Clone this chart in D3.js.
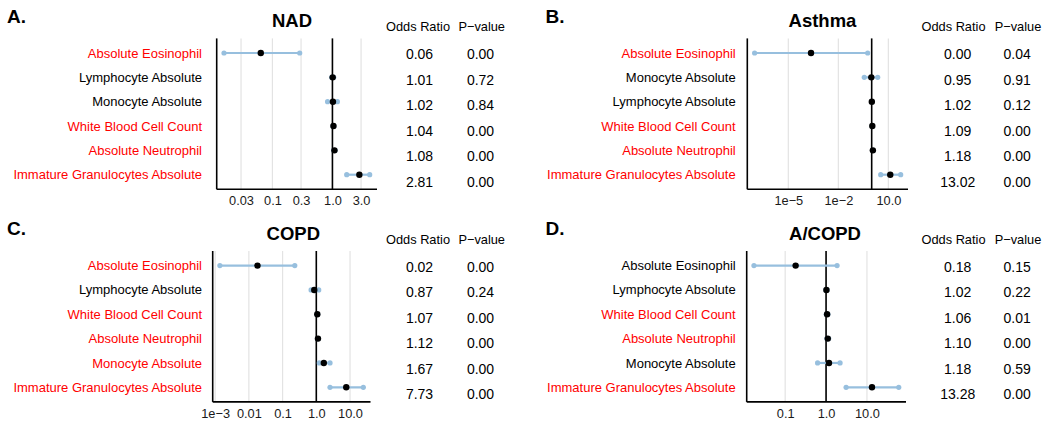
<!DOCTYPE html>
<html>
<head>
<meta charset="utf-8">
<script src="https://cdn.jsdelivr.net/npm/d3@7"></script>
<style>
  html, body { margin: 0; padding: 0; background: #fff; }
  svg { display: block; }
</style>
</head>
<body>
<svg id="chart" width="1050" height="427"></svg>
<script>
// ---------------- DATA ----------------
const labelsNAD = ["Absolute Eosinophil", "Lymphocyte Absolute", "Monocyte Absolute", "White Blood Cell Count", "Absolute Neutrophil", "Immature Granulocytes Absolute"];
const orNAD = [0.064, 1.01, 1.02, 1.04, 1.08, 2.81];
const loNAD = [0.0156, 0.97, 0.83, 1.02, 1.05, 1.73];
const hiNAD = [0.285, 1.05, 1.21, 1.06, 1.11, 4.18];
const pNAD = [0.0001, 0.72, 0.84, 0.0001, 0.0001, 0.0001];
const ticksNAD = [0.03, 0.1, 0.3, 1, 3];
const tickLabelsNAD = ["0.03", "0.1", "0.3", "1.0", "3.0"];

const labelsAsthma = ["Absolute Eosinophil", "Monocyte Absolute", "Lymphocyte Absolute", "White Blood Cell Count", "Absolute Neutrophil", "Immature Granulocytes Absolute"];
const orAsthma = [0.00023, 0.95, 1.02, 1.09, 1.18, 13.02];
const loAsthma = [9.5e-8, 0.36, 0.99, 1.06, 1.13, 3.47];
const hiAsthma = [0.575, 2.3, 1.05, 1.12, 1.23, 55];
const pAsthma = [0.04, 0.91, 0.12, 0.0001, 0.0001, 0.0001];
const ticksAsthma = [1e-5, 1e-2, 10];
const tickLabelsAsthma = ["1e\u22125", "1e\u22122", "10.0"];

const labelsCOPD = ["Absolute Eosinophil", "Lymphocyte Absolute", "White Blood Cell Count", "Absolute Neutrophil", "Monocyte Absolute", "Immature Granulocytes Absolute"];
const orCOPD = [0.018, 0.87, 1.07, 1.12, 1.67, 7.73];
const loCOPD = [0.00138, 0.70, 1.04, 1.08, 1.23, 2.55];
const hiCOPD = [0.23, 1.18, 1.10, 1.16, 2.55, 24.8];
const pCOPD = [0.0001, 0.24, 0.0001, 0.0001, 0.0001, 0.0001];
const ticksCOPD = [1e-3, 0.01, 0.1, 1, 10];
const tickLabelsCOPD = ["1e\u22123", "0.01", "0.1", "1.0", "10.0"];

const labelsACOPD = ["Absolute Eosinophil", "Lymphocyte Absolute", "White Blood Cell Count", "Absolute Neutrophil", "Monocyte Absolute", "Immature Granulocytes Absolute"];
const orACOPD = [0.18, 1.02, 1.06, 1.10, 1.18, 13.28];
const loACOPD = [0.0172, 0.99, 1.01, 1.05, 0.62, 3.09];
const hiACOPD = [1.86, 1.06, 1.11, 1.16, 2.2, 60];
const pACOPD = [0.15, 0.22, 0.01, 0.0001, 0.59, 0.0001];
const ticksACOPD = [0.1, 1, 10];
const tickLabelsACOPD = ["0.1", "1.0", "10.0"];

const titles = ["NAD", "Asthma", "COPD", "A/COPD"];
const letters = ["A.", "B.", "C.", "D."];
const headers = ["Odds Ratio", "P\u2212value"];

// ---------------- LAYOUT ----------------
const FONT = "'Liberation Sans', Arial, Helvetica, sans-serif";
const panels = [
  { title: titles[0], letter: letters[0], labels: labelsNAD, or: orNAD, lo: loNAD, hi: hiNAD, p: pNAD, ticks: ticksNAD, tickLabels: tickLabelsNAD,
    x0: 216.7, x1: 377, dy: 0, labelX: 202, titleX: 292, letterX: 7, orX: 419.5, pX: 480.5, hOrX: 418, hPX: 481.7 },
  { title: titles[1], letter: letters[1], labels: labelsAsthma, or: orAsthma, lo: loAsthma, hi: hiAsthma, p: pAsthma, ticks: ticksAsthma, tickLabels: tickLabelsAsthma,
    x0: 747.3, x1: 908, dy: 0, labelX: 735.7, titleX: 822.5, letterX: 545.5, orX: 957.7, pX: 1017.2, hOrX: 953.5, hPX: 1018 },
  { title: titles[2], letter: letters[2], labels: labelsCOPD, or: orCOPD, lo: loCOPD, hi: hiCOPD, p: pCOPD, ticks: ticksCOPD, tickLabels: tickLabelsCOPD,
    x0: 212.7, x1: 370.5, dy: 212.6, labelX: 202, titleX: 293.3, letterX: 7, orX: 419.5, pX: 480.5, hOrX: 418, hPX: 481.7 },
  { title: titles[3], letter: letters[3], labels: labelsACOPD, or: orACOPD, lo: loACOPD, hi: hiACOPD, p: pACOPD, ticks: ticksACOPD, tickLabels: tickLabelsACOPD,
    x0: 746.7, x1: 906, dy: 212.6, labelX: 735.7, titleX: 825, letterX: 545.5, orX: 957.7, pX: 1017.2, hOrX: 953.5, hPX: 1018 }
];

const plotTop = 38.4, plotBottom = 189.3;
const tableTop = 54.3, tableStep = 25.5;
const ciColor = "#97bfde";
const fmt = d3.format(".2f");

const svg = d3.select("#chart").style("font-family", FONT);

panels.forEach(P => {
  const g = svg.append("g").attr("transform", `translate(0,${P.dy})`);
  const n = P.labels.length;
  const idx = d3.range(n);

  // x: log scale with 5% expansion of data range (like ggplot)
  const lmin = Math.log10(d3.min(P.lo)), lmax = Math.log10(d3.max(P.hi));
  const span = lmax - lmin;
  const x = d3.scaleLog()
    .domain([Math.pow(10, lmin - 0.05 * span), Math.pow(10, lmax + 0.05 * span)])
    .range([P.x0, P.x1]);
  const y = d3.scalePoint().domain(idx).range([plotTop, plotBottom]).padding(0.6);

  // gridlines
  g.append("g").selectAll("line").data(P.ticks).join("line")
    .attr("x1", d => x(d)).attr("x2", d => x(d))
    .attr("y1", plotTop).attr("y2", plotBottom)
    .attr("stroke", "#e3e3e3").attr("stroke-width", 1.2);

  // bottom axis via d3.axisBottom (no tick marks)
  const axis = d3.axisBottom(x).tickValues(P.ticks)
    .tickFormat((d, i) => P.tickLabels[i]).tickSize(0).tickPadding(7);
  const ax = g.append("g").attr("transform", `translate(0,${plotBottom})`).call(axis);
  ax.select(".domain").remove();
  ax.selectAll("text").attr("font-family", FONT).attr("font-size", 12.8).attr("fill", "#1a1a1a");

  // axis lines
  g.append("line").attr("x1", P.x0).attr("x2", P.x1).attr("y1", plotBottom).attr("y2", plotBottom)
    .attr("stroke", "#000").attr("stroke-width", 1.6);
  g.append("line").attr("x1", P.x0).attr("x2", P.x0).attr("y1", plotTop).attr("y2", plotBottom)
    .attr("stroke", "#000").attr("stroke-width", 1.6);

  // reference line at OR = 1
  g.append("line").attr("x1", x(1)).attr("x2", x(1)).attr("y1", plotTop).attr("y2", plotBottom)
    .attr("stroke", "#000").attr("stroke-width", 1.6);

  // CI bars
  const rows = g.append("g").selectAll("g").data(idx).join("g");
  rows.append("line")
    .attr("x1", i => x(P.lo[i])).attr("x2", i => x(P.hi[i]))
    .attr("y1", i => y(i)).attr("y2", i => y(i))
    .attr("stroke", ciColor).attr("stroke-width", 2.2);
  rows.append("circle").attr("cx", i => x(P.lo[i])).attr("cy", i => y(i)).attr("r", 2.6).attr("fill", ciColor);
  rows.append("circle").attr("cx", i => x(P.hi[i])).attr("cy", i => y(i)).attr("r", 2.6).attr("fill", ciColor);
  rows.append("circle").attr("cx", i => x(P.or[i])).attr("cy", i => y(i)).attr("r", 3.2).attr("fill", "#000");

  // row labels
  g.append("g").selectAll("text").data(idx).join("text")
    .attr("x", P.labelX).attr("y", i => y(i)).attr("dy", "0.35em")
    .attr("text-anchor", "end").attr("font-size", 13)
    .attr("fill", i => P.p[i] < 0.05 ? "#ff0000" : "#000")
    .text(i => P.labels[i]);

  // title and letter
  g.append("text").attr("x", P.titleX).attr("y", 27).attr("text-anchor", "middle")
    .attr("font-size", 18.5).attr("font-weight", "bold").text(P.title);
  g.append("text").attr("x", P.letterX).attr("y", 22.5)
    .attr("font-size", 19).attr("font-weight", "bold").text(P.letter);

  // table headers
  g.append("text").attr("x", P.hOrX).attr("y", 27).attr("dy", "0.35em").attr("text-anchor", "middle")
    .attr("font-size", 12.8).text(headers[0]);
  g.append("text").attr("x", P.hPX).attr("y", 27).attr("dy", "0.35em").attr("text-anchor", "middle")
    .attr("font-size", 12.8).text(headers[1]);

  // table values
  const ty = i => tableTop + i * tableStep;
  g.append("g").selectAll("text").data(idx).join("text")
    .attr("x", P.orX).attr("y", ty).attr("dy", "0.35em").attr("text-anchor", "middle")
    .attr("font-size", 14).text(i => fmt(P.or[i]));
  g.append("g").selectAll("text").data(idx).join("text")
    .attr("x", P.pX).attr("y", ty).attr("dy", "0.35em").attr("text-anchor", "middle")
    .attr("font-size", 14).text(i => fmt(P.p[i]));
});
</script>
</body>
</html>
